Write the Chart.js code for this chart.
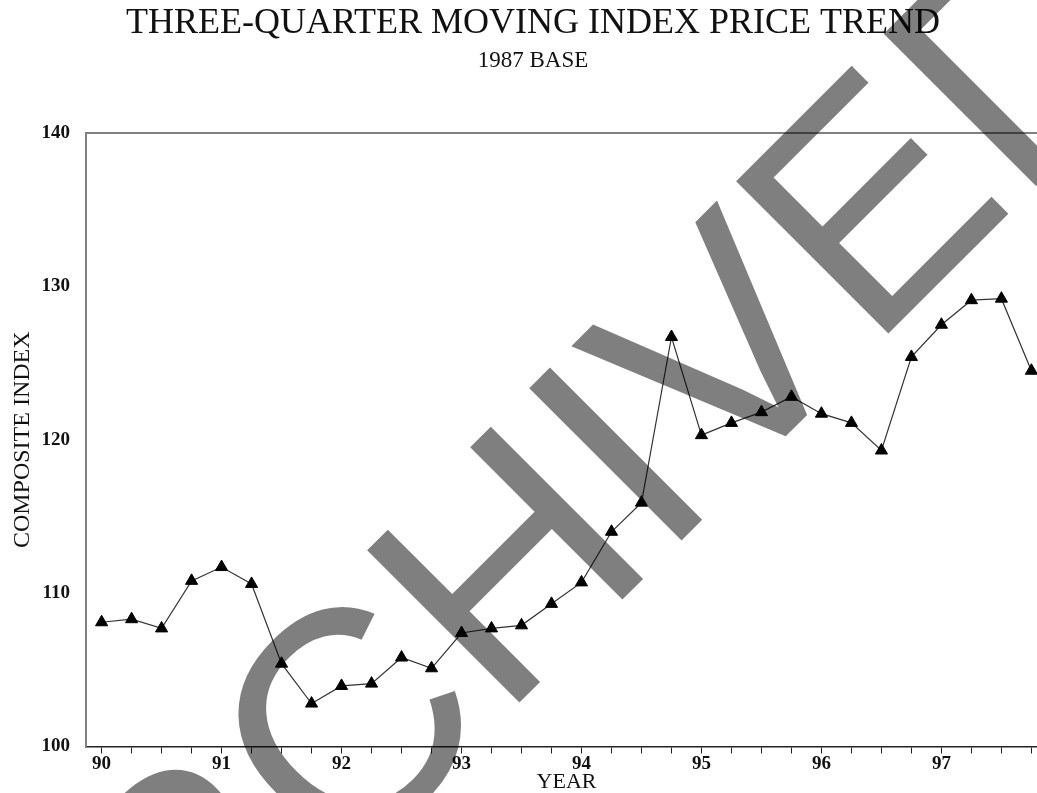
<!DOCTYPE html>
<html>
<head>
<meta charset="utf-8">
<script src="https://cdn.jsdelivr.net/npm/chart.js@4/dist/chart.umd.min.js"></script>
<style>
  html, body { margin: 0; padding: 0; background: #ffffff; overflow: hidden; }
  #wrap { position: absolute; left: 0; top: 0; width: 1066px; height: 793px; }
  canvas { display: block; }
</style>
</head>
<body>
<div id="wrap"><canvas id="chart" width="1066" height="793" style="width:1066px;height:793px"></canvas></div>
<script>
// ---- data ----
const chartTitle = 'THREE-QUARTER MOVING INDEX PRICE TREND';
const chartSubtitle = '1987 BASE';
const xAxisTitle = 'YEAR';
const yAxisTitle = 'COMPOSITE INDEX';
const watermarkText = 'ARCHIVED';

// quarter positions (year + fraction)
const quarterPositions = [
  90, 90.25, 90.5, 90.75,
  91, 91.25, 91.5, 91.75,
  92, 92.25, 92.5, 92.75,
  93, 93.25, 93.5, 93.75,
  94, 94.25, 94.5, 94.75,
  95, 95.25, 95.5, 95.75,
  96, 96.25, 96.5, 96.75,
  97, 97.25, 97.5, 97.75
];
const indexValues = [
  108.1, 108.3, 107.7, 110.8,
  111.7, 110.6, 105.4, 102.8,
  103.95, 104.1, 105.8, 105.1,
  107.4, 107.7, 107.9, 109.3,
  110.7, 114.0, 115.9, 126.7,
  120.3, 121.1, 121.8, 122.8,
  121.7, 121.1, 119.3, 125.4,
  127.5, 129.1, 129.2, 124.5
];
const yearTicks = [90, 91, 92, 93, 94, 95, 96, 97];
const yearLabels = ['90', '91', '92', '93', '94', '95', '96', '97'];
const yTickValues = [100, 110, 120, 130, 140];
const yTickLabels = ['100', '110', '120', '130', '140'];

// ---- chart ----
const serif = '"Liberation Serif", "Times New Roman", serif';

const watermarkPlugin = {
  id: 'watermark',
  afterDraw(chart) {
    const ctx = chart.ctx;
    ctx.save();
    ctx.translate(34, 1188);
    ctx.rotate(-Math.PI / 4);
    ctx.font = '313px "Liberation Sans", Arial, sans-serif';
    ctx.textAlign = 'left';
    ctx.textBaseline = 'alphabetic';
    ctx.fillStyle = 'rgba(0,0,0,0.5)';
    ctx.fillText(watermarkText, 0, 0);
    ctx.restore();
  }
};

const points = quarterPositions.map((x, i) => ({ x: x, y: indexValues[i] }));

new Chart(document.getElementById('chart'), {
  type: 'line',
  data: {
    datasets: [{
      data: points,
      borderColor: '#333333',
      borderWidth: 1.2,
      tension: 0,
      fill: false,
      pointStyle: 'triangle',
      pointRadius: 7,
      pointBackgroundColor: '#000000',
      pointBorderColor: '#000000',
      pointBorderWidth: 1
    }]
  },
  options: {
    responsive: false,
    animation: false,
    devicePixelRatio: 1,
    layout: { padding: { top: 1.8, left: 0, right: 0, bottom: 0 } },
    plugins: {
      legend: { display: false },
      tooltip: { enabled: false },
      title: {
        display: true,
        text: chartTitle,
        color: '#111111',
        font: { family: serif, size: 36, weight: 'normal', lineHeight: 1.2 },
        padding: { top: 0, bottom: 0 }
      },
      subtitle: {
        display: true,
        text: chartSubtitle,
        color: '#111111',
        font: { family: serif, size: 23, weight: 'normal', lineHeight: 1.2 },
        padding: { top: 2, bottom: 58.4 }
      }
    },
    scales: {
      x: {
        type: 'linear',
        min: 89.87,
        max: 97.88,
        afterFit(scale) { scale.height = 46.5; },
        afterBuildTicks(scale) {
          scale.ticks = quarterPositions.map(v => ({ value: v }));
        },
        ticks: {
          autoSkip: false,
          maxRotation: 0,
          padding: -1,
          color: '#111111',
          font: { family: serif, size: 19, weight: 'bold' },
          callback(value) {
            const i = yearTicks.indexOf(value);
            return i >= 0 ? yearLabels[i] : '';
          }
        },
        grid: {
          display: true,
          drawOnChartArea: false,
          drawTicks: true,
          tickLength: 7,
          color: '#222222',
          lineWidth: 1
        },
        border: { display: true, color: '#222222', width: 1.5 },
        title: {
          display: true,
          text: xAxisTitle,
          color: '#111111',
          font: { family: serif, size: 22, weight: 'normal', lineHeight: 1.0 },
          padding: { top: 0, bottom: 0 }
        }
      },
      y: {
        type: 'linear',
        position: 'left',
        min: 100,
        max: 140,
        afterFit(scale) { scale.width = 86; },
        afterBuildTicks(scale) {
          scale.ticks = yTickValues.map(v => ({ value: v }));
        },
        ticks: {
          padding: 16,
          color: '#111111',
          font: { family: serif, size: 19, weight: 'bold' },
          callback(value) {
            const i = yTickValues.indexOf(value);
            return i >= 0 ? yTickLabels[i] : '';
          }
        },
        grid: {
          display: true,
          drawOnChartArea: true,
          drawTicks: false,
          color: (c) => (c.tick && c.tick.value === 140) ? '#808080' : 'rgba(0,0,0,0)',
          lineWidth: 2
        },
        border: { display: true, color: '#808080', width: 2 },
        title: {
          display: true,
          text: yAxisTitle,
          color: '#111111',
          font: { family: serif, size: 24, weight: 'normal', lineHeight: 1.2 },
          padding: { top: 8, bottom: 0 }
        }
      },
      yRight: {
        type: 'linear',
        position: 'right',
        min: 100,
        max: 140,
        display: true,
        afterFit(scale) { scale.width = 19; },
        ticks: { display: false },
        grid: { display: false, drawTicks: false },
        border: { display: true, color: '#808080', width: 2 },
        title: { display: false }
      }
    }
  },
  plugins: [watermarkPlugin]
});
</script>
</body>
</html>
